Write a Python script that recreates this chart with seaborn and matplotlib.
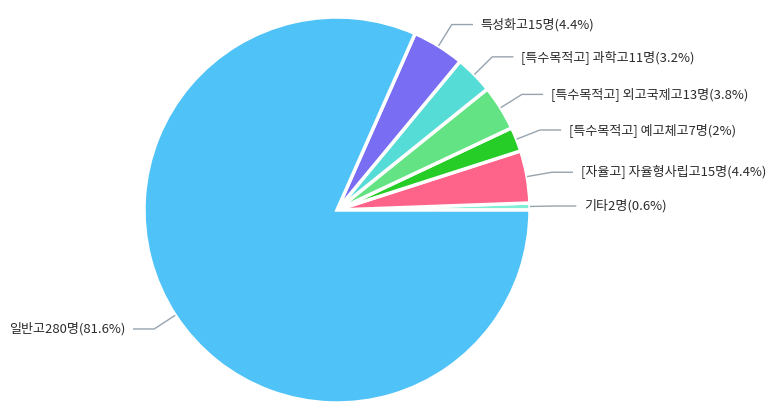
import numpy as np
import matplotlib
matplotlib.use('Agg')
import matplotlib.pyplot as plt
import seaborn as sns

# Data (counter-clockwise from 3 o'clock)
labels = ['기타', '[자율고] 자율형사립고', '[특수목적고] 예고체고', '[특수목적고] 외고국제고',
          '[특수목적고] 과학고', '특성화고', '일반고']
counts = [2, 15, 7, 13, 11, 15, 280]
percents = ['0.6%', '4.4%', '2%', '3.8%', '3.2%', '4.4%', '81.6%']
colors = ['#7ff0d6', '#fe6389', '#25cd26', '#63e383', '#56dcd6', '#786df3', '#4fc2f7']

sns.set_theme(style='white')
plt.rcParams['font.family'] = ['Noto Sans CJK KR', 'DejaVu Sans']

fig = plt.figure(figsize=(7.73, 4.09), dpi=100)
ax = fig.add_axes([0, 0, 1, 1])

wedges, _ = ax.pie(counts, colors=sns.color_palette(colors), startangle=0,
                   counterclock=True, radius=1.0,
                   wedgeprops=dict(edgecolor='white', linewidth=2.5))

# leader lines and labels
line_color = '#97a3ae'
for w, lab, n, p in zip(wedges, labels, counts, percents):
    ang = np.deg2rad((w.theta1 + w.theta2) / 2)
    x0, y0 = np.cos(ang) * 1.0, np.sin(ang) * 1.0
    x1, y1 = np.cos(ang) * 1.13, np.sin(ang) * 1.13
    side = 1 if np.cos(ang) >= 0 else -1
    x2 = x1 + side * 0.11
    ax.plot([x0, x1, x2], [y0, y1, y1], color=line_color, lw=1, solid_capstyle='butt')
    ax.text(x2 + side * 0.04, y1, f'{lab}{n}명({p})', ha='left' if side > 0 else 'right',
            va='center', fontsize=9.4, fontweight='medium', color='#2b2b2b')

px = 193.0
ax.set_xlim(-337 / px, 436 / px)
ax.set_ylim(-199 / px, 210 / px)
ax.set_aspect('auto')
ax.axis('off')

fig.savefig('out.png', dpi=100)
